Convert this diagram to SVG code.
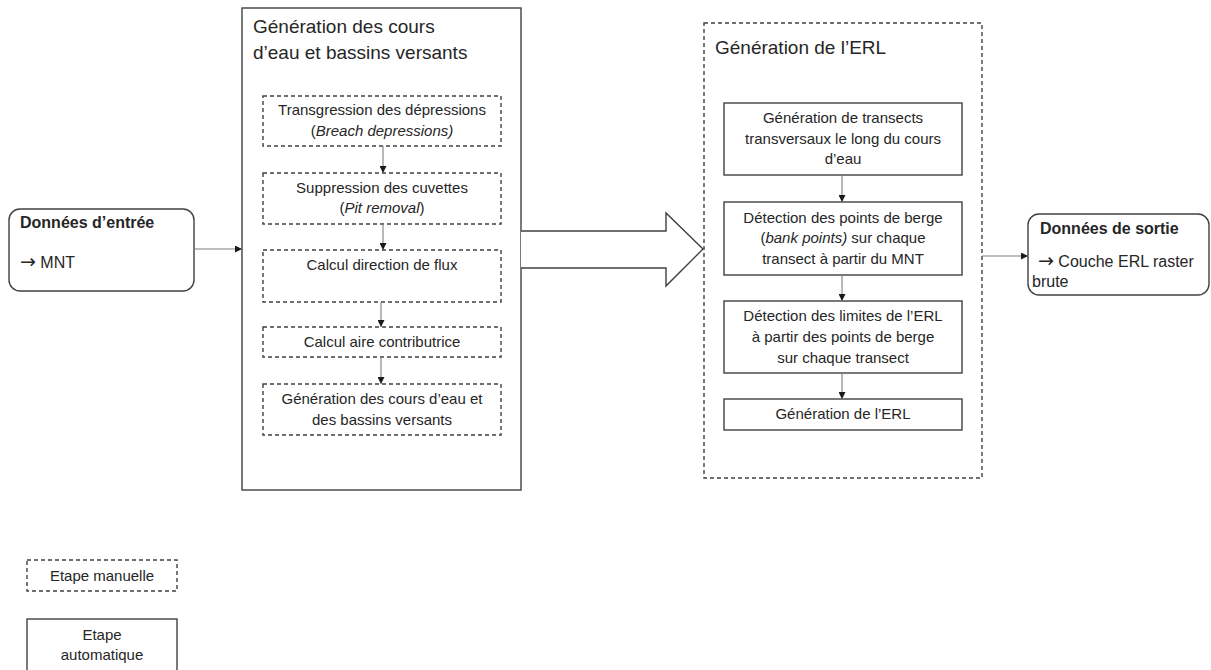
<svg xmlns="http://www.w3.org/2000/svg" width="1211" height="670" viewBox="0 0 1211 670">
<style>
text{font-family:"Liberation Sans",Arial,sans-serif;fill:#262626;}
.t15{font-size:15px;text-anchor:middle;}
.t19{font-size:19px;}
.b16{font-size:16px;font-weight:bold;}
.n16{font-size:16px;}
.arr{font-family:"DejaVu Sans",sans-serif;font-size:19px;}
.solid{fill:#fff;stroke:#404040;stroke-width:1.4;}
.dash{fill:#fff;stroke:#404040;stroke-width:1.4;stroke-dasharray:4 3;}
.con{stroke:#7f7f7f;stroke-width:1.1;fill:none;marker-end:url(#ah);}
</style>
<defs>
<marker id="ah" viewBox="0 0 10 10" refX="10" refY="5" markerWidth="7" markerHeight="7" markerUnits="userSpaceOnUse" orient="auto">
<path d="M0,0 L10,5 L0,10 z" fill="#1a1a1a"/>
</marker>
</defs>
<rect width="1211" height="670" fill="#fff"/>

<g id="input">
<rect class="solid" x="9" y="209" width="185" height="82" rx="11"/>
<text class="b16" x="20" y="228">Données d’entrée</text>
<text class="n16" x="20" y="268"><tspan class="arr">→</tspan> MNT</text>
</g>

<g id="group-cours">
<rect class="solid" x="242" y="8" width="279" height="482"/>
<text class="t19" x="253" y="33">Génération des cours</text>
<text class="t19" x="253" y="59">d’eau et bassins versants</text>
</g>

<g id="breach">
<rect class="dash" x="263" y="96" width="238" height="50"/>
<text class="t15" x="382" y="115">Transgression des dépressions</text>
<text class="t15" x="382" y="136">(<tspan font-style="italic">Breach depressions)</tspan></text>
</g>
<g id="pit">
<rect class="dash" x="263" y="173" width="238" height="51"/>
<text class="t15" x="382" y="193">Suppression des cuvettes</text>
<text class="t15" x="382" y="213">(<tspan font-style="italic">Pit removal</tspan>)</text>
</g>
<g id="flux">
<rect class="dash" x="263" y="250" width="238" height="52"/>
<text class="t15" x="382" y="270">Calcul direction de flux</text>
</g>
<g id="aire">
<rect class="dash" x="263" y="327" width="238" height="30"/>
<text class="t15" x="382" y="347">Calcul aire contributrice</text>
</g>
<g id="gen-cours">
<rect class="dash" x="263" y="384" width="238" height="51"/>
<text class="t15" x="382" y="404">Génération des cours d’eau et</text>
<text class="t15" x="382" y="425">des bassins versants</text>
</g>

<g id="big-arrow">
<path d="M521,231 L666,231 L666,213 L703,249 L666,286 L666,268 L521,268" fill="#fff" stroke="#404040" stroke-width="1.4"/>
</g>

<g id="group-erl">
<rect class="dash" x="704" y="23" width="278" height="455"/>
<text class="t19" x="715" y="54">Génération de l’ERL</text>
</g>
<g id="transects">
<rect class="solid" x="724" y="103" width="238" height="72"/>
<text class="t15" x="843" y="123">Génération de transects</text>
<text class="t15" x="843" y="144">transversaux le long du cours</text>
<text class="t15" x="843" y="164">d’eau</text>
</g>
<g id="bank">
<rect class="solid" x="724" y="202" width="238" height="73"/>
<text class="t15" x="843" y="223">Détection des points de berge</text>
<text class="t15" x="843" y="243">(<tspan font-style="italic">bank points)</tspan> sur chaque</text>
<text class="t15" x="843" y="264">transect à partir du MNT</text>
</g>
<g id="limites">
<rect class="solid" x="724" y="301" width="238" height="72"/>
<text class="t15" x="843" y="321">Détection des limites de l’ERL</text>
<text class="t15" x="843" y="342">à partir des points de berge</text>
<text class="t15" x="843" y="363">sur chaque transect</text>
</g>
<g id="gen-erl">
<rect class="solid" x="724" y="399" width="238" height="31"/>
<text class="t15" x="843" y="419">Génération de l’ERL</text>
</g>

<g id="output">
<rect class="solid" x="1028" y="214" width="181" height="81" rx="11"/>
<text class="b16" x="1040" y="234">Données de sortie</text>
<text class="n16" x="1038" y="267"><tspan class="arr">→</tspan> Couche ERL raster</text>
<text class="n16" x="1032" y="287">brute</text>
</g>

<g id="legend-manuelle">
<rect class="dash" x="27" y="560" width="150" height="31"/>
<text class="t15" x="102" y="581">Etape manuelle</text>
</g>
<g id="legend-auto">
<rect class="solid" x="27" y="619" width="150" height="70"/>
<text class="t15" x="102" y="640">Etape</text>
<text class="t15" x="102" y="660">automatique</text>
</g>

<g id="connectors">
<line class="con" x1="194" y1="249" x2="242" y2="249"/>
<line class="con" x1="383" y1="146" x2="383" y2="173"/>
<line class="con" x1="383" y1="224" x2="383" y2="250"/>
<line class="con" x1="381" y1="302" x2="381" y2="327"/>
<line class="con" x1="381" y1="357" x2="381" y2="384"/>
<line class="con" x1="842" y1="175" x2="842" y2="202"/>
<line class="con" x1="842" y1="275" x2="842" y2="301"/>
<line class="con" x1="842" y1="373" x2="842" y2="399"/>
<line class="con" x1="982" y1="256" x2="1028" y2="256"/>
</g>
</svg>
